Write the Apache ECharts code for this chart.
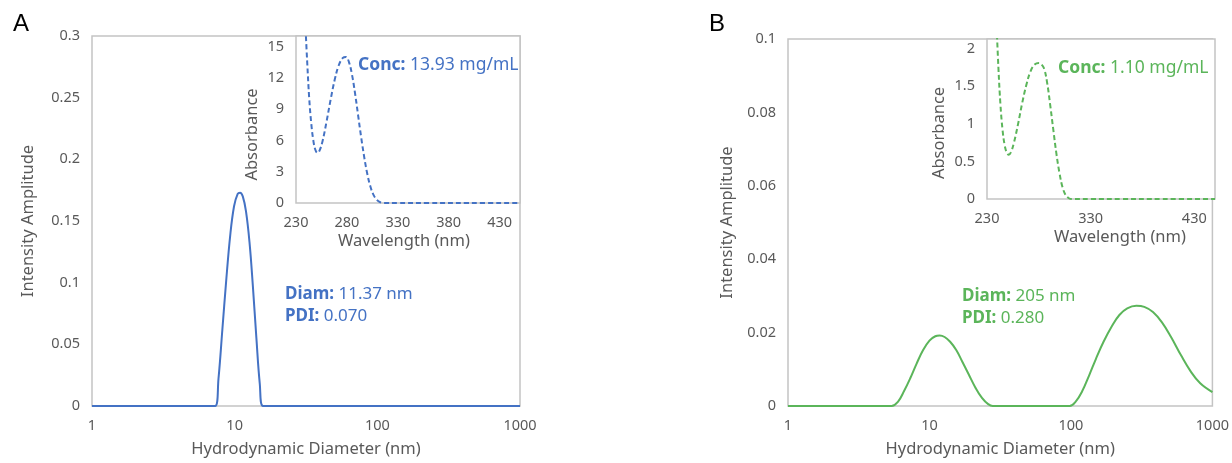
<!DOCTYPE html>
<html>
<head>
<meta charset="utf-8">
<script src="https://cdn.jsdelivr.net/npm/echarts@6/dist/echarts.min.js"></script>
<style>
  html, body { margin: 0; padding: 0; background: #fff; }
  #chart { width: 1232px; height: 463px; }
</style>
</head>
<body>
<div id="chart"></div>
<script>
// DLS size distributions (hydrodynamic diameter in nm, intensity amplitude)
const aDiam = [1, 2, 5, 7.3, 7.7, 8.2, 8.7, 9.3, 9.9, 10.5, 10.9, 11.4, 12.0, 12.7, 13.4, 14.2, 15.0, 15.8, 20, 50, 100, 300, 1000]
const aIntensity = [0, 0, 0, 0, 0.022, 0.062, 0.100, 0.138, 0.162, 0.172, 0.173, 0.170, 0.158, 0.133, 0.098, 0.055, 0.018, 0, 0, 0, 0, 0, 0]

const bDiam = [1, 2, 5.4, 6, 6.6, 7.3, 8.1, 9, 10, 11, 11.8, 12.8, 14, 15.5, 17, 19, 21, 23.5, 26, 28, 50,
  98, 108, 120, 135, 150, 170, 195, 220, 250, 290, 330, 380, 440, 510, 600, 700, 820, 1000]
const bIntensity = [0, 0, 0, 0.0012, 0.004, 0.0075, 0.0115, 0.0152, 0.0178, 0.019, 0.0192, 0.0188, 0.0175, 0.0152, 0.0122, 0.0085, 0.0052, 0.0022, 0.0005, 0, 0,
  0, 0.0012, 0.004, 0.0085, 0.0128, 0.0175, 0.0218, 0.0248, 0.0266, 0.0273, 0.027, 0.0256, 0.0228, 0.0188, 0.0138, 0.0095, 0.0062, 0.0038]

// UV-Vis insets (wavelength in nm, absorbance)
const aWave = [239, 241, 243, 245, 247, 249, 251, 253, 256, 260, 264, 268, 272, 276, 279, 282, 285, 288, 291, 294, 297, 300, 303, 306, 309, 312, 316, 330, 360, 400, 450]
const aAbs = [17.5, 13.5, 10.0, 7.6, 6.0, 5.1, 4.8, 5.0, 5.9, 7.8, 9.9, 11.8, 13.2, 13.9, 14.0, 13.5, 12.3, 10.5, 8.4, 6.3, 4.4, 2.8, 1.6, 0.8, 0.35, 0.1, 0, 0, 0, 0, 0]

const bWave = [239, 241, 243, 245, 247, 249, 251, 253, 256, 260, 264, 268, 272, 276, 280, 282, 285, 288, 291, 294, 297, 300, 303, 306, 309, 312, 330, 360, 400, 450]
const bAbs = [2.4, 1.75, 1.25, 0.92, 0.72, 0.62, 0.59, 0.62, 0.75, 1.0, 1.28, 1.52, 1.70, 1.79, 1.81, 1.80, 1.74, 1.55, 1.25, 0.92, 0.6, 0.34, 0.15, 0.05, 0.01, 0, 0, 0, 0, 0]

const BLUE = '#4472c4'
const GREEN = '#5bb55a'
const TEXT = '#595959'
const BORDER = '#c4c4c4'
const FONT = 'Noto Sans'

const pairs = (xs, ys) => xs.map((x, i) => [x, ys[i]])

const label = (extra) => Object.assign({ color: TEXT, fontFamily: FONT, fontSize: 14.5, margin: 12, formatter: v => String(v) }, extra)
const nameStyle = (extra) => Object.assign({ color: TEXT, fontFamily: FONT, fontSize: 16.5 }, extra)

const chart = echarts.init(document.getElementById('chart'))

const mkGrid = (left, top, width, height, z) => ({
  left, top, width, height, z,
  show: true, backgroundColor: '#fff', borderColor: BORDER, borderWidth: 1.5
})

const noLines = { axisLine: { show: false }, axisTick: { show: false }, splitLine: { show: false } }

const annot = (text, color, size, lh) => ({
  text, fill: color, fontFamily: FONT, fontSize: size, lineHeight: lh,
  rich: { b: { fontWeight: 'bold', fill: color, fontFamily: FONT, fontSize: size, lineHeight: lh } }
})

const option = {
  animation: false,
  grid: [
    mkGrid(92, 36, 428, 372, 0),
    mkGrid(296, 36, 224, 167, 3),
    mkGrid(788, 39, 427, 370, 0),
    mkGrid(987, 39, 228, 160, 3)
  ],
  xAxis: [
    Object.assign({
      type: 'log', logBase: 10, min: 1, max: 1000, gridIndex: 0,
      name: 'Hydrodynamic Diameter (nm)', nameLocation: 'middle', nameGap: 35,
      nameTextStyle: nameStyle(), axisLabel: label()
    }, noLines),
    Object.assign({
      type: 'value', min: 230, max: 450, interval: 50, gridIndex: 1, z: 4,
      name: 'Wavelength (nm)', nameLocation: 'middle', nameGap: 30,
      nameTextStyle: nameStyle({ padding: [0, 8, 0, 0] }),
      axisLabel: label({ showMaxLabel: false })
    }, noLines),
    Object.assign({
      type: 'log', logBase: 10, min: 1, max: 1000, gridIndex: 2,
      name: 'Hydrodynamic Diameter (nm)', nameLocation: 'middle', nameGap: 35,
      nameTextStyle: nameStyle(), axisLabel: label()
    }, noLines),
    Object.assign({
      type: 'value', min: 230, max: 450, interval: 100, gridIndex: 3, z: 4,
      name: 'Wavelength (nm)', nameLocation: 'middle', nameGap: 30,
      nameTextStyle: nameStyle({ padding: [0, 0, 0, 38] }),
      axisLabel: label({ showMaxLabel: false })
    }, noLines)
  ],
  yAxis: [
    Object.assign({
      type: 'value', min: 0, max: 0.3, interval: 0.05, gridIndex: 0,
      name: 'Intensity Amplitude', nameLocation: 'middle', nameGap: 55,
      nameTextStyle: nameStyle(), axisLabel: label()
    }, noLines),
    Object.assign({
      type: 'value', min: 0, max: 16, interval: 3, gridIndex: 1, z: 4,
      name: 'Absorbance', nameLocation: 'middle', nameGap: 35,
      nameTextStyle: nameStyle({ padding: [0, 30, 0, 0] }),
      axisLabel: label({ showMaxLabel: false })
    }, noLines),
    Object.assign({
      type: 'value', min: 0, max: 0.1, interval: 0.02, gridIndex: 2,
      name: 'Intensity Amplitude', nameLocation: 'middle', nameGap: 52,
      nameTextStyle: nameStyle(), axisLabel: label()
    }, noLines),
    Object.assign({
      type: 'value', min: 0, max: 2.13, interval: 0.5, gridIndex: 3, z: 4,
      name: 'Absorbance', nameLocation: 'middle', nameGap: 39,
      nameTextStyle: nameStyle({ padding: [0, 28, 0, 0] }),
      axisLabel: label({ showMaxLabel: false })
    }, noLines)
  ],
  series: [
    {
      type: 'line', xAxisIndex: 0, yAxisIndex: 0, data: pairs(aDiam, aIntensity),
      showSymbol: false, smooth: 0.4, lineStyle: { color: BLUE, width: 2 }
    },
    {
      type: 'line', xAxisIndex: 1, yAxisIndex: 1, data: pairs(aWave, aAbs), z: 5, clip: true,
      showSymbol: false, smooth: 0.4, lineStyle: { color: BLUE, width: 2, type: [5, 3] }
    },
    {
      type: 'line', xAxisIndex: 2, yAxisIndex: 2, data: pairs(bDiam, bIntensity),
      showSymbol: false, smooth: 0.4, lineStyle: { color: GREEN, width: 2 }
    },
    {
      type: 'line', xAxisIndex: 3, yAxisIndex: 3, data: pairs(bWave, bAbs), z: 5, clip: true,
      showSymbol: false, smooth: 0.4, lineStyle: { color: GREEN, width: 2, type: [5, 3] }
    }
  ],
  graphic: [
    { type: 'text', left: 13, top: 12, style: { text: 'A', fill: '#000', font: '24px "Liberation Sans"' } },
    { type: 'text', left: 709, top: 12, style: { text: 'B', fill: '#000', font: '24px "Liberation Sans"' } },
    { type: 'text', left: 285, top: 283, z: 10, style: annot('{b|Diam:} 11.37 nm\n{b|PDI:} 0.070', BLUE, 17, 22) },
    { type: 'text', left: 962, top: 285, z: 10, style: annot('{b|Diam:} 205 nm\n{b|PDI:} 0.280', GREEN, 17, 22) },
    { type: 'text', left: 358, top: 53, z: 10, style: annot('{b|Conc:} 13.93 mg/mL', BLUE, 17.5, 24) },
    { type: 'text', left: 1058, top: 56, z: 10, style: annot('{b|Conc:} 1.10 mg/mL', GREEN, 17.5, 24) }
  ]
}

chart.setOption(option)
</script>
</body>
</html>
